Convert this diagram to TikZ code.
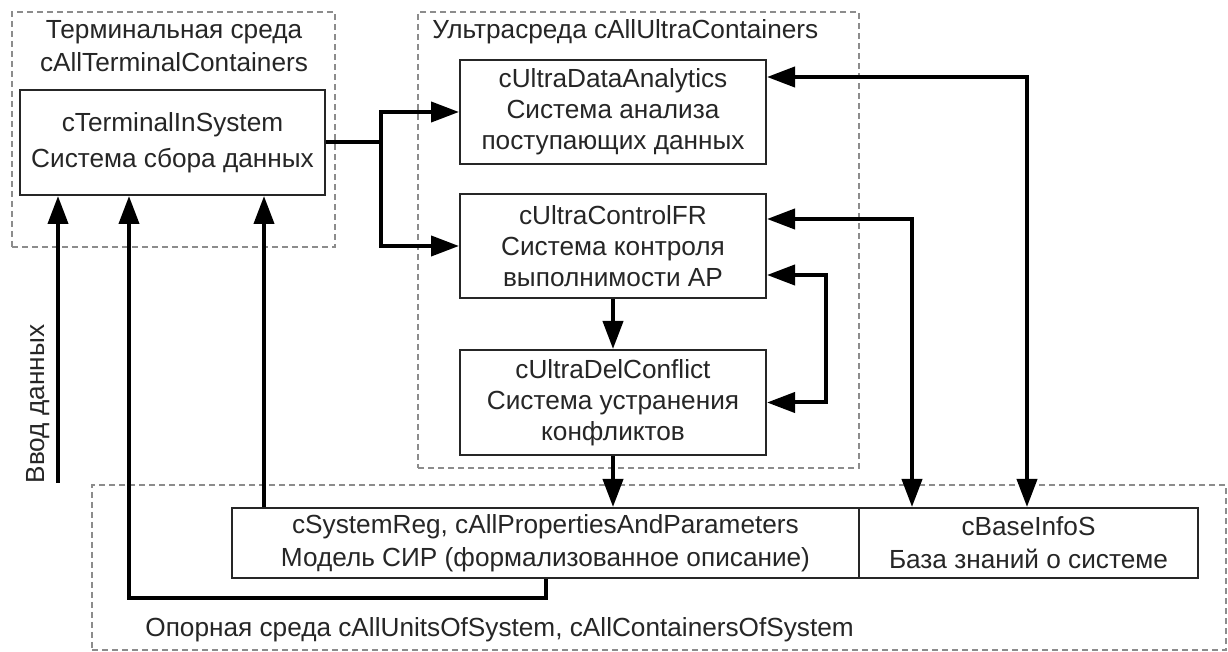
\documentclass[tikz,border=0pt]{standalone}
\usepackage{fontspec}
\setmainfont{Liberation Sans}
\usetikzlibrary{arrows.meta,calc}
\begin{document}
\begin{tikzpicture}[x=0.5pt,y=-0.5pt,
  box/.style={draw=black!85, line width=1pt, inner sep=0pt, align=center, text=black!85, fill=white},
  region/.style={draw=black!45, line width=0.6pt, dash pattern=on 3pt off 2pt, inner sep=0pt},
  conn/.style={line width=2pt, line join=miter},
  arr/.style={conn, -{Triangle[length=14pt,width=10pt]}},
  darr/.style={conn, {Triangle[length=14pt,width=10pt]}-{Triangle[length=14pt,width=10pt]}},
  lbl/.style={text=black!85, inner sep=0pt},
  f31/.style={font=\fontsize{13.1}{15.5}\selectfont},
  f33/.style={font=\fontsize{13.1}{16.5}\selectfont},
  f36/.style={font=\fontsize{13.1}{18}\selectfont}
]
\useasboundingbox (0,0) rectangle (1228,652);
\fill[white] (0,0) rectangle (1228,652);

% regions
\node[region, minimum width=161.5pt, minimum height=117.5pt] (termreg) at (173.5,129.5) {};
\node[region, minimum width=220.5pt, minimum height=228pt] (ultrareg) at (638.5,240) {};
\node[region, minimum width=567pt, minimum height=82.5pt] (basereg) at (659,567.5) {};

\node[lbl, f33, align=center] (termtitle) at (174,46) {Терминальная среда\\cAllTerminalContainers};
\node[lbl, f31, anchor=west] (ultratitle) at (432,32) {Ультрасреда cAllUltraContainers};
\node[lbl, f31, anchor=west] (basetitle) at (145,630) {Опорная среда cAllUnitsOfSystem, cAllContainersOfSystem};

% boxes
\node[box, f36, minimum width=152.5pt, minimum height=52.5pt] (term) at (172.5,142.5) {cTerminalInSystem\\Система сбора данных};
\node[box, f31, minimum width=153pt, minimum height=52pt] (data) at (613,112) {cUltraDataAnalytics\\Система анализа\\поступающих данных};
\node[box, f31, minimum width=153pt, minimum height=52pt] (ctrl) at (613,246) {cUltraControlFR\\Система контроля\\выполнимости АР};
\node[box, f31, minimum width=153pt, minimum height=52.5pt] (del) at (613,402.5) {cUltraDelConflict\\Система устранения\\конфликтов};
\node[box, f33, minimum width=313.5pt, minimum height=35pt] (sys) at (545.5,543) {cSystemReg, cAllPropertiesAndParameters\\Модель СИР (формализованное описание)};
\node[box, f33, minimum width=169.5pt, minimum height=35pt] (base) at (1028.5,543) {cBaseInfoS\\База знаний о системе};

% terminal -> ultra
\coordinate (br) at (381,142.5);
\draw[conn] (term.east) -- (br);
\draw[arr] (br) |- (data.west);
\draw[arr] (br) |- (ctrl.west);

% ultra <-> base
\draw[darr] ($(data.north east)+(0,18)$) -| ($(base.north west)+(169,0)$);
\draw[darr] ($(ctrl.north east)+(0,26)$) -| ($(base.north west)+(54,0)$);
\draw[darr] ($(ctrl.south east)+(0,-24)$) -- ++(59,0) |- (del.east);

% internal
\draw[arr] (ctrl.south) -- (del.north);
\draw[arr] (del.south) -- (del.south |- sys.north);

% back to terminal
\coordinate (up1) at ($(sys.north west)+(33,0)$);
\draw[arr] (up1) -- (up1 |- term.south);
\coordinate (lp) at ($(term.south west)+(110,0)$);
\draw[arr] (sys.south) -- ++(0,19) -| (lp);

% data input
\coordinate (in) at (58,483);
\draw[arr] (in) -- (in |- term.south);
\node[lbl, f31, rotate=90] (inlbl) at (38,404) {Ввод данных};
\end{tikzpicture}
\end{document}
